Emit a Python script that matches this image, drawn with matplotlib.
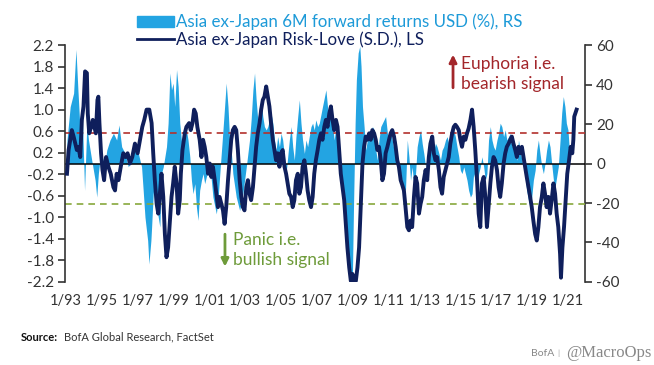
import matplotlib
matplotlib.use("Agg")
import matplotlib.pyplot as plt
from matplotlib.patches import Patch, FancyArrowPatch
from matplotlib.lines import Line2D

plt.rcParams["font.family"] = ["Lato", "DejaVu Sans"]

BLUE = "#23a4e2"
BLUE_TXT = "#1d9ad8"
NAVY = "#0f1f5c"
RED = "#b3302c"
GREEN = "#88a83c"
RED_TXT = "#a3262a"
GREEN_TXT = "#6e9b3a"
AXIS = "#333333"

# Asia ex-Japan Risk-Love (S.D.), left scale
rl_years = [
    1993.06, 1993.15, 1993.33, 1993.43, 1993.61, 1993.70, 1993.80, 1993.89, 1993.98, 1994.07,
    1994.17, 1994.22, 1994.30, 1994.41, 1994.50, 1994.59, 1994.67, 1994.76, 1994.81, 1994.87,
    1994.96, 1995.04, 1995.13, 1995.24, 1995.37, 1995.50, 1995.65, 1995.74, 1995.83, 1995.93,
    1996.06, 1996.20, 1996.33, 1996.44, 1996.57, 1996.70, 1996.85, 1997.00, 1997.13, 1997.26,
    1997.37, 1997.50,
    1997.65, 1997.78, 1997.87, 1997.96, 1998.06, 1998.15, 1998.24, 1998.33, 1998.43, 1998.52,
    1998.61, 1998.70, 1998.80, 1998.89, 1998.98, 1999.07, 1999.17, 1999.26, 1999.35, 1999.41,
    1999.50, 1999.63, 1999.72, 1999.87, 1999.96, 2000.06, 2000.15, 2000.24, 2000.33, 2000.46,
    2000.56, 2000.65, 2000.74, 2000.83, 2000.93, 2001.02, 2001.11, 2001.20, 2001.30, 2001.39,
    2001.48, 2001.57, 2001.67, 2001.76, 2001.85, 2001.94, 2002.04, 2002.13, 2002.22, 2002.31,
    2002.41,
    2002.50, 2002.59, 2002.69, 2002.78, 2002.87, 2002.96, 2003.06, 2003.15, 2003.24, 2003.33,
    2003.43, 2003.52, 2003.61, 2003.70, 2003.80, 2003.89, 2003.98, 2004.07, 2004.17, 2004.26,
    2004.35, 2004.44, 2004.54, 2004.63, 2004.72, 2004.81, 2004.91, 2005.00, 2005.09, 2005.19,
    2005.28, 2005.37, 2005.46, 2005.56, 2005.65, 2005.74, 2005.83, 2005.93, 2006.02, 2006.11,
    2006.20, 2006.30, 2006.39, 2006.48, 2006.57, 2006.67, 2006.76, 2006.85, 2006.94, 2007.04,
    2007.13,
    2007.22, 2007.31, 2007.41, 2007.50, 2007.59, 2007.69, 2007.78, 2007.87, 2007.96, 2008.06,
    2008.15, 2008.24, 2008.33, 2008.43, 2008.52, 2008.61, 2008.70, 2008.80, 2008.89, 2008.98,
    2009.07, 2009.17, 2009.26, 2009.35, 2009.44, 2009.54, 2009.63, 2009.72, 2009.81, 2009.91,
    2010.00, 2010.09, 2010.19, 2010.28, 2010.37, 2010.46, 2010.56, 2010.65, 2010.74, 2010.83,
    2010.93, 2011.02, 2011.11, 2011.20, 2011.30, 2011.39, 2011.48, 2011.57, 2011.67,
    2011.76, 2011.85, 2011.94, 2012.04, 2012.13, 2012.22, 2012.31, 2012.41, 2012.50, 2012.59,
    2012.69, 2012.78, 2012.87, 2012.96, 2013.06, 2013.15, 2013.24, 2013.33, 2013.43, 2013.52,
    2013.61, 2013.70, 2013.80, 2013.89, 2013.98, 2014.07, 2014.17, 2014.26, 2014.35, 2014.44,
    2014.54, 2014.63, 2014.72, 2014.81, 2014.91, 2015.00, 2015.09, 2015.19, 2015.28, 2015.37,
    2015.46, 2015.56, 2015.65, 2015.74, 2015.83, 2015.93, 2016.02, 2016.11, 2016.20, 2016.30,
    2016.39, 2016.48, 2016.57, 2016.67,
    2016.76, 2016.85, 2016.94, 2017.04, 2017.13, 2017.22, 2017.31, 2017.41, 2017.50, 2017.59,
    2017.69, 2017.78, 2017.87, 2017.96, 2018.06, 2018.15, 2018.24, 2018.33, 2018.43, 2018.52,
    2018.61, 2018.70, 2018.80, 2018.89, 2018.98, 2019.07, 2019.17, 2019.26, 2019.35, 2019.44,
    2019.54, 2019.63, 2019.72, 2019.81, 2019.91, 2020.00, 2020.09, 2020.19, 2020.28, 2020.37,
    2020.46, 2020.56, 2020.61, 2020.69, 2020.78, 2020.87, 2020.96, 2021.06, 2021.15, 2021.24,
    2021.30, 2021.35, 2021.48,
]
rl_values = [
    -0.19, 0.25, 0.62, 0.50, 0.25, 0.31, 0.12, 0.81, 1.06, 1.71,
    1.68, 0.93, 0.56, 0.68, 0.81, 0.68, 0.56, 1.18, 1.24, 0.75,
    0.19, -0.12, -0.31, 0.12, -0.06, -0.19, -0.44, -0.50, -0.19, -0.31,
    -0.06, 0.19, 0.12, 0.19, 0.00, 0.12, 0.37, 0.19, 0.44, 0.68,
    0.81, 1.00,
    1.00, 0.75, 0.19, -0.31, -0.75, -0.93, -0.56, -0.19, -0.62, -1.31,
    -1.74, -1.56, -1.06, -0.62, -0.37, -0.06, -0.37, -0.93, -0.68, -0.19,
    0.25, 0.56, 0.68, 0.75, 0.62, 0.75, 1.00, 0.93, 0.68, 0.44,
    0.12, 0.44, 0.31, 0.12, -0.19, 0.00, -0.25, -0.06, -0.31, -0.56,
    -0.81, -0.62, -0.75, -0.87, -1.12, -0.81, -0.31, 0.06, 0.44, 0.62,
    0.68,
    0.62, 0.25, -0.31, -0.62, -0.81, -0.87, -0.44, -0.31, -0.56, -0.68,
    -0.44, -0.06, 0.31, 0.56, 0.75, 1.00, 1.18, 1.24, 1.43, 1.24,
    1.06, 0.75, 0.44, 0.25, 0.06, 0.19, -0.06, 0.19, 0.25, -0.06,
    -0.19, -0.37, -0.56, -0.62, -0.81, -0.68, -0.31, -0.19, -0.56, -0.44,
    -0.06, 0.06, -0.19, -0.50, -0.68, -0.81, -0.62, -0.19, 0.06, 0.25,
    0.44,
    0.56, 0.44, 0.68, 0.81, 0.68, 0.93, 1.06, 0.81, 0.62, 0.81,
    0.68, 0.25, -0.19, -0.44, -0.68, -1.12, -1.56, -1.93, -2.18, -2.05,
    -2.18, -2.18, -1.93, -1.56, -0.81, 0.00, 0.31, 0.50, 0.44, 0.56,
    0.44, 0.62, 0.56, 0.44, 0.25, 0.31, 0.06, -0.31, -0.19, 0.19,
    0.31, 0.44, 0.56, 0.62, 0.50, 0.31, 0.06, -0.06, -0.31,
    -0.40, -0.50, -0.81, -1.18, -1.24, -1.06, -1.18, -0.62, -0.25, -0.37,
    -0.93, -0.75, -0.62, -0.31, -0.12, -0.31, 0.12, 0.37, 0.50, 0.19,
    0.06, 0.12, -0.12, -0.44, -0.56, -0.25, -0.12, 0.00, 0.12, 0.37,
    0.56, 0.68, 0.72, 0.68, 0.62, 0.44, 0.31, 0.50, 0.44, 0.56,
    0.65, 0.81, 1.00, 0.68, 0.25, -0.31, -0.93, -1.18, -0.37, -0.25,
    -0.62, -1.18, -0.81, -0.37,
    -0.06, 0.12, 0.06, -0.12, -0.44, -0.62, -0.37, 0.00, 0.19, 0.31,
    0.37, 0.44, 0.50, 0.37, 0.25, 0.12, 0.31, 0.19, 0.31, 0.12,
    -0.06, -0.25, -0.44, -0.62, -0.81, -1.06, -1.31, -1.43, -1.18, -0.81,
    -0.62, -0.37, -0.56, -0.81, -0.62, -0.93, -0.68, -0.37, -0.56, -0.93,
    -1.18, -1.68, -2.12, -1.56, -1.18, -0.68, -0.19, 0.06, 0.31, 0.19,
    0.44, 0.87, 1.00,
]

# Asia ex-Japan 6M forward returns USD (%), right scale
ret_years = [
    1993.06, 1993.24, 1993.43, 1993.56, 1993.67, 1993.80, 1993.93, 1994.04, 1994.17, 1994.26,
    1994.35, 1994.44, 1994.63, 1994.72, 1994.81, 1994.96, 1995.15, 1995.28, 1995.46, 1995.65,
    1995.83, 1995.96, 1996.11, 1996.30, 1996.48, 1996.67, 1996.85, 1997.04, 1997.22, 1997.31,
    1997.41, 1997.56, 1997.63, 1997.74,
    1997.78, 1997.87, 1997.96, 1998.06, 1998.24, 1998.33, 1998.43, 1998.52, 1998.61, 1998.70,
    1998.80, 1998.89, 1998.98, 1999.07, 1999.17, 1999.26, 1999.35, 1999.44, 1999.54, 1999.63,
    1999.72, 1999.81, 1999.91, 2000.00, 2000.09, 2000.19, 2000.28, 2000.37, 2000.46, 2000.56,
    2000.65, 2000.74, 2000.83, 2000.93, 2001.02, 2001.11, 2001.20, 2001.39, 2001.48, 2001.61,
    2001.72, 2001.85, 2001.94, 2002.04, 2002.13, 2002.22,
    2002.31, 2002.50, 2002.69, 2002.87, 2003.06, 2003.24, 2003.33, 2003.43, 2003.52, 2003.61,
    2003.70, 2003.80, 2003.89, 2003.98, 2004.07, 2004.17, 2004.26, 2004.35, 2004.44, 2004.54,
    2004.63, 2004.72, 2004.81, 2004.91, 2005.00, 2005.09, 2005.19, 2005.28, 2005.37, 2005.46,
    2005.56, 2005.65, 2005.74, 2005.83, 2005.93, 2006.02, 2006.11, 2006.20, 2006.30, 2006.39,
    2006.48, 2006.57, 2006.67, 2006.76, 2006.85, 2006.94, 2007.04,
    2007.13, 2007.31, 2007.50, 2007.59, 2007.69, 2007.78, 2007.87, 2007.96, 2008.06, 2008.15,
    2008.24, 2008.33, 2008.43, 2008.52, 2008.61, 2008.70, 2008.80, 2008.89, 2008.98, 2009.04,
    2009.13, 2009.20, 2009.30, 2009.39, 2009.46, 2009.54, 2009.63, 2009.72, 2009.81, 2009.91,
    2010.00, 2010.09, 2010.19, 2010.28, 2010.37, 2010.46, 2010.56, 2010.65, 2010.74, 2010.83,
    2010.93, 2011.02, 2011.11, 2011.20, 2011.30, 2011.39, 2011.48, 2011.57, 2011.67, 2011.76,
    2011.85, 2011.94,
    2012.04, 2012.13, 2012.22, 2012.31, 2012.41, 2012.50, 2012.59, 2012.69, 2012.78, 2012.87,
    2012.96, 2013.06, 2013.15, 2013.24, 2013.33, 2013.43, 2013.52, 2013.61, 2013.70, 2013.80,
    2013.89, 2013.98, 2014.07, 2014.17, 2014.26, 2014.35, 2014.44, 2014.54, 2014.63, 2014.72,
    2014.81, 2014.91, 2015.00, 2015.09, 2015.19, 2015.28, 2015.37, 2015.46, 2015.56, 2015.65,
    2015.74, 2015.83, 2015.93, 2016.02, 2016.11, 2016.20, 2016.30, 2016.39, 2016.48, 2016.57,
    2016.67,
    2016.76, 2016.85, 2016.94, 2017.04, 2017.13, 2017.22, 2017.31, 2017.41, 2017.50, 2017.59,
    2017.69, 2017.78, 2017.87, 2017.96, 2018.06, 2018.15, 2018.24, 2018.33, 2018.43, 2018.52,
    2018.61, 2018.70, 2018.80, 2018.89, 2018.98, 2019.07, 2019.17, 2019.26, 2019.35, 2019.44,
    2019.54, 2019.63, 2019.72, 2019.81, 2019.91, 2020.00, 2020.09, 2020.19, 2020.28, 2020.37,
    2020.46, 2020.56, 2020.65, 2020.74, 2020.83, 2020.91, 2021.00, 2021.09,
]
ret_values = [
    11.9, 28.8, 35.6, 57.7, 37.3, 15.3, 20.4, -13.6, 20.4, 11.9,
    6.8, 1.7, -8.5, -17.0, -5.1, 6.8, -1.7, 6.8, 11.9, 15.3,
    11.9, 19.5, 8.5, 5.1, -1.7, 1.7, 8.5, 5.1, -1.7, -13.6,
    -27.2, -39.0, -50.9, -39.0,
    -32.2, -15.3, -8.5, -22.1, -32.2, -5.1, -1.7, 3.4, 8.5, 20.4,
    45.8, 37.3, 40.7, 28.8, 47.5, 39.0, 20.4, 11.9, 6.8, 17.0,
    17.0, 11.9, 3.4, -8.5, -15.3, -10.2, -22.1, -28.8, -13.6, -8.5,
    -5.1, -10.2, -6.8, -3.4, -1.7, -8.5, -17.0, -25.5, -18.7, -1.7,
    11.9, 28.8, 40.7, 28.8, 11.9, 6.8,
    -5.1, -17.0, -23.8, -15.3, -1.7, 11.9, 22.1, 37.3, 45.8, 32.2,
    22.1, 28.8, 32.2, 23.8, 18.7, 17.0, 18.7, 22.1, 25.5, 20.4,
    11.9, 6.8, 13.6, 8.5, 15.3, 11.9, 3.4, -5.1, 3.4, 11.9,
    18.7, 8.5, 1.7, 13.6, 23.8, 32.2, 20.4, 11.9, 5.1, 11.9,
    8.5, 13.6, 18.7, 20.4, 17.0, 22.1, 18.7,
    20.4, 28.8, 37.3, 28.8, 22.1, 25.5, 20.4, 11.9, 18.7, 15.3,
    6.8, -8.5, -18.7, -30.5, -42.4, -49.2, -54.3, -59.4, -56.0, -22.1,
    20.4, 42.4, 56.0, 59.4, 49.2, 28.8, 18.7, 6.8, 11.9, 17.0,
    11.9, 18.7, 17.0, 6.8, 1.7, 11.9, 18.7, 20.4, 22.1, 23.8,
    15.3, 11.9, 15.3, 11.9, 6.8, 11.9, 3.4, 0.0, -5.1, -10.2,
    -13.6, -13.0,
    11.9, 3.4, -8.5, -1.7, -11.9, -5.1, 8.5, 13.6, 17.0, 10.2,
    5.1, -1.7, 3.4, 8.5, 11.9, 10.2, 6.8, 10.2, 8.5, 5.1,
    1.7, 6.8, 8.5, 11.9, 13.6, 10.2, 11.9, 15.3, 17.0, 13.6,
    8.5, 3.4, -3.4, -5.1, -1.7, -5.1, -8.5, -13.6, -17.0, -15.3,
    -5.1, -8.5, -11.9, -5.1, -1.7, 3.4, -1.7, -8.5, -5.1, 11.9,
    18.7,
    11.9, 8.5, 6.8, 11.9, 15.3, 20.4, 18.7, 13.6, 17.0, 11.9,
    13.6, 15.3, 8.5, 11.9, 5.1, 1.7, 11.9, 6.8, 1.7, -1.7,
    -6.8, -13.6, -18.7, -22.1, -17.0, -8.5, -3.4, 6.8, 11.9, 5.1,
    -1.7, -5.1, 0.0, 6.8, 11.9, 8.5, 0.0, -8.5, -11.9, -6.8,
    -1.7, 11.9, 25.5, 33.9, 28.8, 20.4, 17.0, 5.1,
]

euphoria_level = 0.57
panic_level = -0.75

left_ticks = [-2.2, -1.8, -1.4, -1.0, -0.6, -0.2, 0.2, 0.6, 1.0, 1.4, 1.8, 2.2]
right_ticks = [-60, -40, -20, 0, 20, 40, 60]
x_ticks = list(range(1993, 2022, 2))
x_labels = ["1/%02d" % (y % 100) for y in x_ticks]

fig = plt.figure(figsize=(6.54, 3.65), dpi=100)
ax = fig.add_axes([0.0994, 0.2274, 0.7951, 0.6493])
ax2 = ax.twinx()

# returns area sits behind the risk-love line
ax2.fill_between(ret_years, ret_values, 0, color=BLUE, lw=0)
ax2.set_ylim(-60, 60)
ax2.set_yticks(right_ticks)
ax2.set_yticklabels([str(t) for t in right_ticks])

ax.set_zorder(ax2.get_zorder() + 1)
ax.patch.set_visible(False)

ax.axhline(0, color="black", lw=1.1, zorder=1)
ax.axhline(euphoria_level, color=RED, lw=1.2, dashes=(4, 3), zorder=2)
ax.axhline(panic_level, color=GREEN, lw=1.2, dashes=(4, 3), zorder=2)
ax.plot(rl_years, rl_values, color=NAVY, lw=2.8, solid_joinstyle="round", zorder=3)

ax.set_ylim(-2.2, 2.2)
ax.set_yticks(left_ticks)
ax.set_yticklabels(["%.1f" % t for t in left_ticks])
ax.set_xlim(1992.95, 2021.95)
ax.set_xticks(x_ticks)
ax.set_xticklabels(x_labels)

for a in (ax, ax2):
    for s in ("top", "bottom"):
        a.spines[s].set_visible(False)
ax.spines["right"].set_visible(False)
ax2.spines["left"].set_visible(False)
ax.spines["left"].set_color(AXIS)
ax2.spines["right"].set_color(AXIS)
ax.spines["left"].set_linewidth(1.2)
ax2.spines["right"].set_linewidth(1.2)

ax.tick_params(axis="y", direction="out", length=5, width=1.2, color=AXIS,
               labelsize=11, labelcolor=AXIS, pad=3)
ax2.tick_params(axis="y", direction="out", length=5, width=1.2, color=AXIS,
                labelsize=11, labelcolor=AXIS, pad=3)
ax.tick_params(axis="x", length=0, labelsize=10.5, labelcolor=AXIS, pad=9)

handles = [Patch(color=BLUE), Line2D([], [], color=NAVY, lw=2)]
labels = ["Asia ex-Japan 6M forward returns USD (%), RS",
          "Asia ex-Japan Risk-Love (S.D.), LS"]
fig.legend(handles, labels, loc="upper left", bbox_to_anchor=(0.188, 1.0),
           frameon=False, fontsize=12.2, handlelength=2.2, handleheight=0.6,
           handletextpad=0.15, labelspacing=0.05, borderpad=0.3,
           labelcolor=[BLUE_TXT, NAVY])

# signal annotations
fig.add_artist(FancyArrowPatch(
    (0.6927, 0.752), (0.6927, 0.858), transform=fig.transFigure,
    arrowstyle="-|>", mutation_scale=11, color=RED_TXT, lw=2))
fig.text(0.705, 0.826, "Euphoria i.e.", color=RED_TXT, fontsize=12.5, va="center")
fig.text(0.705, 0.771, "bearish signal", color=RED_TXT, fontsize=12.5, va="center")

fig.add_artist(FancyArrowPatch(
    (0.344, 0.366), (0.344, 0.262), transform=fig.transFigure,
    arrowstyle="-|>", mutation_scale=11, color=GREEN_TXT, lw=2))
fig.text(0.357, 0.342, "Panic i.e.", color=GREEN_TXT, fontsize=12.5, va="center")
fig.text(0.357, 0.287, "bullish signal", color=GREEN_TXT, fontsize=12.5, va="center")

fig.text(0.032, 0.076, "Source:", fontsize=8, fontweight="bold", color="#111111", va="center")
fig.text(0.098, 0.076, "BofA Global Research, FactSet", fontsize=8, color="#333333", va="center")
fig.text(0.812, 0.032, "BofA", fontsize=7.5, color="#888888", va="center")
fig.text(0.852, 0.032, "|", fontsize=6, color="#aaaaaa", va="center")
fig.text(0.866, 0.034, "@MacroOps", fontsize=12, color="#888888", va="center",
         family=["Liberation Serif", "DejaVu Serif"])

fig.savefig("out.png", dpi=100)
